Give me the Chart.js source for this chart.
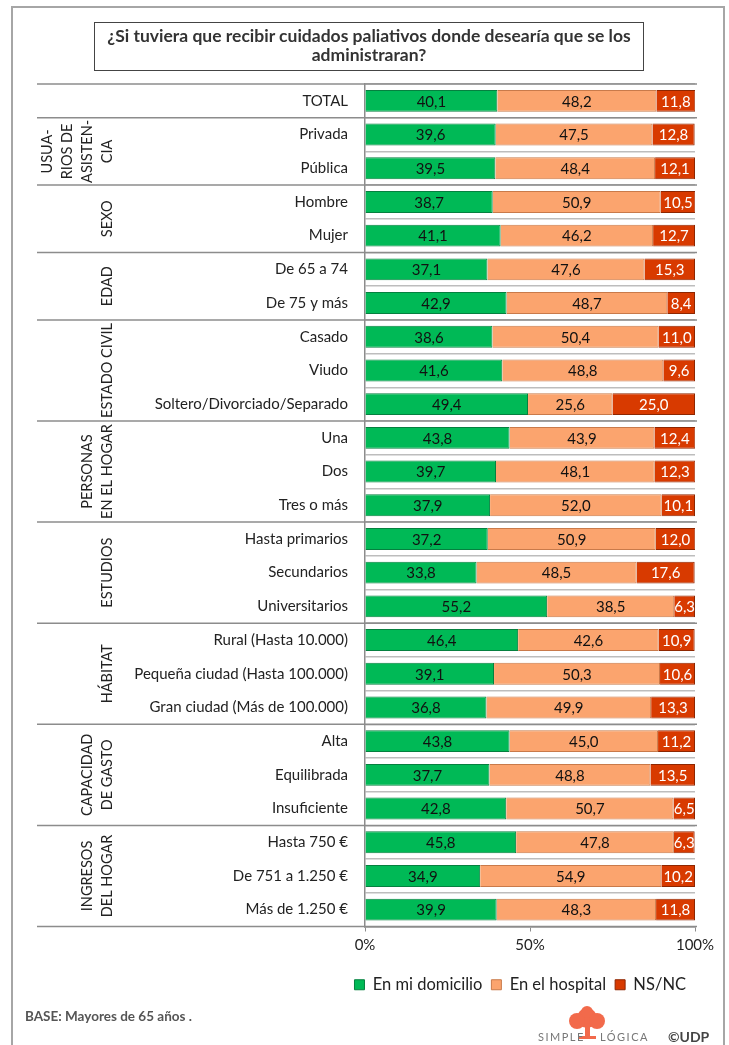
<!DOCTYPE html>
<html>
  <head>
    <meta charset="utf-8">
    <title>Cuidados paliativos</title>
    <script src="https://cdn.jsdelivr.net/npm/chart.js"></script>
    <style>
      body { margin: 0; background: #fff; font-family: Lato, "Open Sans", sans-serif; }
      #wrap { position: relative; width: 729px; height: 1045px; }
      #frame { position: absolute; left: 11px; top: 6px; width: 710px; height: 1045px; border: 2px solid #a6a6a6; border-bottom: none; }
      #title { position: absolute; left: 94px; top: 22px; width: 548px; height: 44px; border: 1.5px solid #444;
               text-align: center; font-weight: bold; font-size: 17.5px; line-height: 19px; color: #333; padding-top: 3px; }
      #base { position: absolute; left: 25px; top: 1008px; font-size: 13.5px; font-weight: bold; color: #555; }
      #logo { position: absolute; left: 538px; top: 1006px; font-size: 11px; color: #777; letter-spacing: 1.5px; }
      #udp { position: absolute; left: 668px; top: 1028px; font-size: 14px; font-weight: bold; color: #444; }
      canvas { position: absolute; left: 0; top: 0; }
    </style>
  </head>
  <body>
    <div id="wrap">
      <div id="frame"></div>
      <canvas id="chart" width="729" height="1045"></canvas>
      <div id="title">¿Si tuviera que recibir cuidados paliativos donde desearía que se los<br>administraran?</div>
      <div id="base">BASE: Mayores de 65 años .</div>
      <div id="logo">
        <svg width="50" height="36" style="position:absolute;left:24px;top:0">
          <circle cx="25" cy="12" r="10" fill="#f26a4b"/>
          <circle cx="15" cy="15" r="8" fill="#f26a4b"/>
          <circle cx="35" cy="15" r="8" fill="#f26a4b"/>
          <circle cx="25" cy="6" r="6" fill="#f26a4b"/>
          <rect x="23" y="18" width="5" height="14" fill="#f26a4b"/>
          <rect x="17" y="30" width="17" height="3" fill="#f26a4b"/>
        </svg>
        <span style="position:absolute;left:0;top:24px">SIMPLE</span>
        <span style="position:absolute;left:62px;top:24px">LÓGICA</span>
      </div>
      <div id="udp">©UDP</div>
    </div>
    <script>
      const categories = [
        "TOTAL", "Privada", "Pública", "Hombre", "Mujer", "De 65 a 74", "De 75 y más",
        "Casado", "Viudo", "Soltero/Divorciado/Separado", "Una", "Dos", "Tres o más",
        "Hasta primarios", "Secundarios", "Universitarios", "Rural (Hasta 10.000)",
        "Pequeña ciudad (Hasta 100.000)", "Gran ciudad (Más de 100.000)", "Alta",
        "Equilibrada", "Insuficiente", "Hasta 750 €", "De 751 a 1.250 €", "Más de 1.250 €"
      ];
      const domicilio = [40.1, 39.6, 39.5, 38.7, 41.1, 37.1, 42.9, 38.6, 41.6, 49.4, 43.8, 39.7, 37.9,
        37.2, 33.8, 55.2, 46.4, 39.1, 36.8, 43.8, 37.7, 42.8, 45.8, 34.9, 39.9];
      const hospital = [48.2, 47.5, 48.4, 50.9, 46.2, 47.6, 48.7, 50.4, 48.8, 25.6, 43.9, 48.1, 52.0,
        50.9, 48.5, 38.5, 42.6, 50.3, 49.9, 45.0, 48.8, 50.7, 47.8, 54.9, 48.3];
      const nsnc = [11.8, 12.8, 12.1, 10.5, 12.7, 15.3, 8.4, 11.0, 9.6, 25.0, 12.4, 12.3, 10.1,
        12.0, 17.6, 6.3, 10.9, 10.6, 13.3, 11.2, 13.5, 6.5, 6.3, 10.2, 11.8];
      const seriesNames = ["En mi domicilio", "En el hospital", "NS/NC"];
      const xTicks = [0, 50, 100];

      // grupos: primera y última fila, texto girado (una entrada por línea)
      const groups = [
        { from: 0, to: 0, lines: [] },
        { from: 1, to: 2, lines: ["USUA-", "RIOS DE", "ASISTEN-", "CIA"] },
        { from: 3, to: 4, lines: ["SEXO"] },
        { from: 5, to: 6, lines: ["EDAD"] },
        { from: 7, to: 9, lines: ["ESTADO CIVIL"] },
        { from: 10, to: 12, lines: ["PERSONAS", "EN EL HOGAR"] },
        { from: 13, to: 15, lines: ["ESTUDIOS"] },
        { from: 16, to: 18, lines: ["HÁBITAT"] },
        { from: 19, to: 21, lines: ["CAPACIDAD", "DE GASTO"] },
        { from: 22, to: 24, lines: ["INGRESOS", "DEL HOGAR"] }
      ];

      const FONT = "Lato";

      const groupPlugin = {
        id: "groups",
        afterDraw(chart) {
          const ctx = chart.ctx;
          const y = chart.scales.y;
          const area = chart.chartArea;
          const half = (y.getPixelForValue(1) - y.getPixelForValue(0)) / 2;
          ctx.save();
          ctx.strokeStyle = "#8c8c8c";
          ctx.lineWidth = 1.5;
          groups.forEach((g, i) => {
            const top = y.getPixelForValue(g.from) - half;
            const bot = y.getPixelForValue(g.to) + half;
            ctx.beginPath();
            ctx.moveTo(37, top);
            ctx.lineTo(area.right + 2, top);
            if (i === groups.length - 1) {
              ctx.moveTo(37, bot);
              ctx.lineTo(area.right + 2, bot);
            }
            ctx.stroke();
            const mid = (top + bot) / 2;
            const n = g.lines.length;
            ctx.fillStyle = "#222";
            ctx.font = "14.5px " + FONT;
            ctx.textAlign = "center";
            ctx.textBaseline = "middle";
            g.lines.forEach((t, k) => {
              const cx = 107 - (n - 1 - k) * 20;
              ctx.save();
              ctx.translate(cx, mid);
              ctx.rotate(-Math.PI / 2);
              ctx.fillText(t, 0, 0);
              ctx.restore();
            });
          });
          ctx.restore();
        }
      };

      const labelPlugin = {
        id: "barLabels",
        afterDatasetsDraw(chart) {
          const ctx = chart.ctx;
          ctx.save();
          ctx.font = "15px " + FONT;
          ctx.textAlign = "center";
          ctx.textBaseline = "middle";
          chart.data.datasets.forEach((ds, di) => {
            const meta = chart.getDatasetMeta(di);
            meta.data.forEach((el, i) => {
              const v = ds.data[i];
              ctx.fillStyle = di === 2 ? "#fff" : "#111";
              ctx.fillText(v.toFixed(1).replace(".", ","), (el.x + el.base) / 2, el.y + 1);
            });
          });
          ctx.restore();
        }
      };

      const ctx = document.getElementById("chart").getContext("2d");
      new Chart(ctx, {
        type: "bar",
        data: {
          labels: categories,
          datasets: [
            { label: seriesNames[0], data: domicilio, backgroundColor: "#00b956", borderColor: "#05803f", borderWidth: 1 },
            { label: seriesNames[1], data: hospital, backgroundColor: "#fba46e", borderColor: "#c97a4a", borderWidth: 1 },
            { label: seriesNames[2], data: nsnc, backgroundColor: "#d83a00", borderColor: "#8e2600", borderWidth: 1 }
          ]
        },
        options: {
          indexAxis: "y",
          responsive: false,
          animation: false,
          categoryPercentage: 1,
          barPercentage: 0.65,
          layout: { padding: { top: 84, right: 34, bottom: 42, left: 0 } },
          scales: {
            x: {
              stacked: true,
              min: 0,
              max: 100,
              afterBuildTicks: (s) => { s.ticks = xTicks.map((v) => ({ value: v })); },
              afterFit: (s) => { s.height = 41; },
              ticks: { callback: (v) => v + "%", font: { family: FONT, size: 15 }, color: "#222", padding: 5 },
              grid: { drawOnChartArea: false, tickLength: 5, color: "#8c8c8c" },
              border: { color: "#8c8c8c", width: 1.5 }
            },
            y: {
              stacked: true,
              afterFit: (s) => { s.width = 365; },
              ticks: { font: { family: FONT, size: 15 }, color: "#222", padding: 17 },
              grid: { drawTicks: false, color: "#bdbdbd", lineWidth: 1.5 },
              border: { color: "#8c8c8c", width: 1.5 }
            }
          },
          plugins: {
            legend: {
              position: "bottom",
              align: "end",
              labels: { font: { family: FONT, size: 16.5 }, color: "#222", boxWidth: 10, boxHeight: 10, padding: 9 }
            },
            tooltip: { enabled: false }
          }
        },
        plugins: [groupPlugin, labelPlugin]
      });
    </script>
  </body>
</html>
